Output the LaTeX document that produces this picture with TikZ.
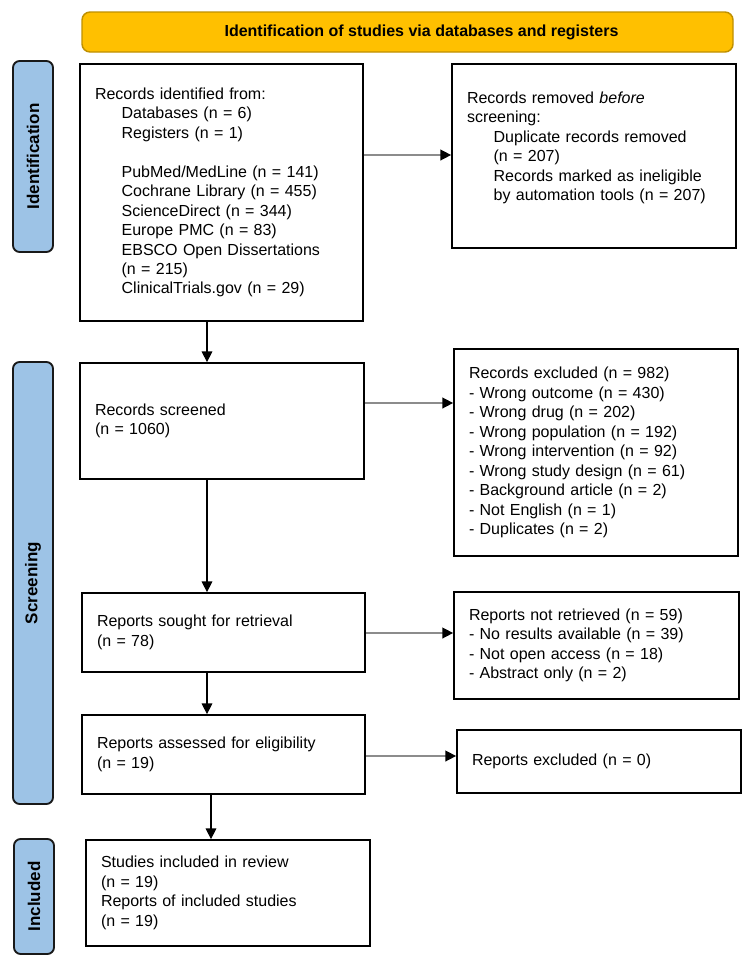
\documentclass[tikz,border=0pt]{standalone}
\usepackage{fontspec}
\setmainfont{Liberation Sans}
\usetikzlibrary{arrows.meta,calc}
\definecolor{bannerfill}{HTML}{FFC000}
\definecolor{bannerdraw}{HTML}{BF9000}
\definecolor{labelfill}{HTML}{9DC3E6}
\definecolor{hlinecol}{HTML}{8C8C8C}
\tikzset{
  stagebox/.style={draw=black, line width=1.3pt, rectangle, align=left,
    inner xsep=11.25pt, inner ysep=0pt,
    font=\fontsize{12pt}{14.6pt}\selectfont},
  phaselabel/.style={draw=black!90, line width=1.4pt, fill=labelfill,
    rounded corners=5pt, rotate=90, inner sep=0pt,
    font=\fontsize{12.75pt}{15pt}\selectfont\bfseries},
  bannerbox/.style={draw=bannerdraw, line width=1.1pt, fill=bannerfill,
    rounded corners=6pt, inner sep=0pt,
    font=\fontsize{12pt}{14.6pt}\selectfont\bfseries},
  harrow/.style={draw=hlinecol, line width=1.1pt,
    -{Triangle[length=8pt,width=8pt,color=black]}},
  varrow/.style={draw=black, line width=0.8pt,
    -{Triangle[length=8pt,width=8pt,color=black]}},
}
% name, x1, y1, x2, y2, text  (pixel coordinates)
\newcommand\prbox[6]{%
  \pgfmathsetlengthmacro\prtw{(#4-#2-30)*0.75}%
  \pgfmathsetlengthmacro\prbh{(#5-#3)*0.75}%
  \node[stagebox, text width=\prtw, minimum height=\prbh] (#1)
    at ({(#2+#4)/2},{(#3+#5)/2}) {#6};}
\newcommand\prlabel[6]{%
  \pgfmathsetlengthmacro\prlw{(#5-#3)*0.75}%
  \pgfmathsetlengthmacro\prlh{(#4-#2)*0.75}%
  \node[phaselabel, minimum width=\prlw, minimum height=\prlh] (#1)
    at ({(#2+#4)/2},{(#3+#5)/2}) {#6};}
\newcommand\ind{\hspace*{20pt}}
\begin{document}
\begin{tikzpicture}[x=0.75pt,y=-0.75pt]
\useasboundingbox (0,0) rectangle (750,968);

% banner
\node[bannerbox, minimum width=488.25pt, minimum height=30pt] (banner)
  at (407.5,32) {\hspace*{21pt}Identification of studies via databases and registers};

% phase labels
\prlabel{labident}{13}{61}{53}{252}{Identification}
\prlabel{labscreen}{13}{362}{53}{804}{Screening}
\prlabel{labincl}{14}{839}{54}{954}{Included}

% boxes
\prbox{ident}{80}{64}{363}{321}{Records identified from:\\
\ind Databases (n = 6)\\
\ind Registers (n = 1)\\
\mbox{}\\
\ind PubMed/MedLine (n = 141)\\
\ind Cochrane Library (n = 455)\\
\ind ScienceDirect (n = 344)\\
\ind Europe PMC (n = 83)\\
\ind EBSCO Open Dissertations\\
\ind (n = 215)\\
\ind ClinicalTrials.gov (n = 29)}

\prbox{removed}{452}{64}{736}{248}{Records removed \emph{before}\\
screening:\\
\ind Duplicate records removed\\
\ind (n = 207)\\
\ind Records marked as ineligible\\
\ind by automation tools (n = 207)\\
\mbox{}}

\prbox{screened}{80}{363}{364}{479}{Records screened\\
(n = 1060)}

\prbox{excluded}{454}{349}{738}{556}{Records excluded (n = 982)\\
- Wrong outcome (n = 430)\\
- Wrong drug (n = 202)\\
- Wrong population (n = 192)\\
- Wrong intervention (n = 92)\\
- Wrong study design (n = 61)\\
- Background article (n = 2)\\
- Not English (n = 1)\\
- Duplicates (n = 2)}

\prbox{sought}{82}{593}{365}{672}{Reports sought for retrieval\\
(n = 78)}

\prbox{notret}{454}{592}{739}{699}{Reports not retrieved (n = 59)\\
- No results available (n = 39)\\
- Not open access (n = 18)\\
- Abstract only (n = 2)}

\prbox{assessed}{82}{715}{365}{794}{Reports assessed for eligibility\\
(n = 19)}

\prbox{repexcl}{457}{730}{741}{793}{Reports excluded (n = 0)}

\prbox{included}{86}{840}{370}{946}{Studies included in review\\
(n = 19)\\
Reports of included studies\\
(n = 19)}

% connector guides
\coordinate (va) at (207,0);
\coordinate (vb) at (211,0);
\coordinate (ha) at (0,155);
\coordinate (hb) at (0,403);
\coordinate (hc) at (0,633);
\coordinate (hd) at (0,756);

\draw[harrow] (ident.east |- ha) -- (removed.west |- ha);
\draw[varrow] (ident.south -| va) -- (screened.north -| va);
\draw[harrow] (screened.east |- hb) -- (excluded.west |- hb);
\draw[varrow] (screened.south -| va) -- (sought.north -| va);
\draw[harrow] (sought.east |- hc) -- (notret.west |- hc);
\draw[varrow] (sought.south -| va) -- (assessed.north -| va);
\draw[harrow] (assessed.east |- hd) -- (repexcl.west |- hd);
\draw[varrow] (assessed.south -| vb) -- (included.north -| vb);
\end{tikzpicture}
\end{document}
